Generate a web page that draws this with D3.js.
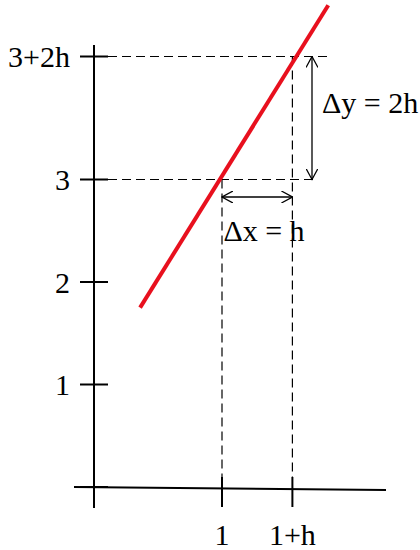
<!DOCTYPE html>
<html>
<head>
<meta charset="utf-8">
<script src="https://cdn.jsdelivr.net/npm/d3@7"></script>
<style>
  body { margin: 0; background: #fff; }
  text { font-family: "Liberation Serif", "Times New Roman", serif; }
</style>
</head>
<body>
<div id="chart"></div>
<script>
// tick values (h is not drawn to scale)
const xTicks = [1, 1.55];
const xTickLabels = ["1", "1+h"];
const yTicks = [0, 1, 2, 3, 4.2];
const yTickLabels = ["", "1", "2", "3", "3+2h"];

// red secant line end points
const lineX = [0.36, 1.83];
const lineY = [1.75, 4.7];

const width = 420, height = 550;

const xScale = d3.scaleLinear().domain([0, 1]).range([94, 222]);
const yScale = d3.scaleLinear().domain([0, 1]).range([487, 384.5]);

const svg = d3.select("#chart").append("svg")
    .attr("width", width)
    .attr("height", height);

// axes lines
svg.append("line")
    .attr("x1", xScale(0)).attr("x2", xScale(0))
    .attr("y1", 45).attr("y2", 508)
    .attr("stroke", "black").attr("stroke-width", 2);
svg.append("line")
    .attr("x1", 74).attr("x2", 386)
    .attr("y1", yScale(0)).attr("y2", yScale(0) + 3)
    .attr("stroke", "black").attr("stroke-width", 2);

// y ticks
svg.append("g").selectAll("line")
    .data(yTicks)
    .join("line")
    .attr("x1", 80).attr("x2", 108)
    .attr("y1", d => yScale(d)).attr("y2", d => yScale(d))
    .attr("stroke", "black").attr("stroke-width", 2);
svg.append("g").selectAll("text")
    .data(yTicks)
    .join("text")
    .attr("x", 70)
    .attr("y", d => yScale(d))
    .attr("dy", "0.35em")
    .attr("text-anchor", "end")
    .attr("font-size", 30)
    .text((d, i) => yTickLabels[i]);

// x ticks
svg.append("g").selectAll("line")
    .data(xTicks)
    .join("line")
    .attr("x1", d => xScale(d)).attr("x2", d => xScale(d))
    .attr("y1", 477).attr("y2", 507)
    .attr("stroke", "black").attr("stroke-width", 2);
svg.append("g").selectAll("text")
    .data(xTicks)
    .join("text")
    .attr("x", d => xScale(d))
    .attr("y", 545)
    .attr("text-anchor", "middle")
    .attr("font-size", 30)
    .text((d, i) => xTickLabels[i]);

// dashed guides
const dash = svg.append("g")
    .attr("stroke", "black").attr("stroke-width", 1.2)
    .attr("stroke-dasharray", "9,5");
dash.append("line")
    .attr("x1", 108).attr("x2", 318)
    .attr("y1", yScale(3)).attr("y2", yScale(3));
dash.append("line")
    .attr("x1", 108).attr("x2", 330)
    .attr("y1", yScale(4.2)).attr("y2", yScale(4.2));
dash.append("line")
    .attr("x1", xScale(1)).attr("x2", xScale(1))
    .attr("y1", yScale(3)).attr("y2", 477);
dash.append("line")
    .attr("x1", xScale(1.55)).attr("x2", xScale(1.55))
    .attr("y1", yScale(4.2)).attr("y2", 477);

// arrows
svg.append("defs").append("marker")
    .attr("id", "arr")
    .attr("viewBox", "0 0 12 12")
    .attr("refX", 11).attr("refY", 6)
    .attr("markerWidth", 12).attr("markerHeight", 12)
    .attr("markerUnits", "userSpaceOnUse")
    .attr("orient", "auto-start-reverse")
    .append("path")
    .attr("d", "M0,0 L11,6 L0,12")
    .attr("fill", "none").attr("stroke", "black").attr("stroke-width", 1.3);

svg.append("line")
    .attr("x1", xScale(1)).attr("x2", xScale(1.55))
    .attr("y1", 197).attr("y2", 197)
    .attr("stroke", "black").attr("stroke-width", 1.3)
    .attr("marker-start", "url(#arr)").attr("marker-end", "url(#arr)");
svg.append("line")
    .attr("x1", 312).attr("x2", 312)
    .attr("y1", yScale(4.2)).attr("y2", yScale(3))
    .attr("stroke", "black").attr("stroke-width", 1.3)
    .attr("marker-start", "url(#arr)").attr("marker-end", "url(#arr)");

// red line
svg.append("line")
    .attr("x1", xScale(lineX[0])).attr("y1", yScale(lineY[0]))
    .attr("x2", xScale(lineX[1])).attr("y2", yScale(lineY[1]))
    .attr("stroke", "#e8101e").attr("stroke-width", 4);

// labels
svg.append("text")
    .attr("x", 264).attr("y", 241)
    .attr("text-anchor", "middle")
    .attr("font-size", 30)
    .text("Δx = h");
svg.append("text")
    .attr("x", 322).attr("y", 113)
    .attr("font-size", 30)
    .text("Δy = 2h");
</script>
</body>
</html>
